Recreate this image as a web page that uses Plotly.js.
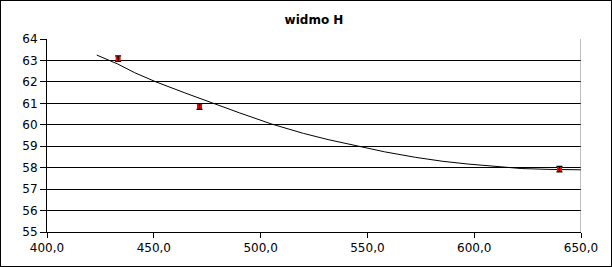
<!DOCTYPE html>
<html>
<head>
<meta charset="utf-8">
<script src="https://cdn.plot.ly/plotly-3.0.1.min.js"></script>
<style>
html,body{margin:0;padding:0;background:#fff;}
#wrap{position:relative;width:612px;height:267px;}
#chart{width:612px;height:267px;}
#frame{position:absolute;left:0;top:0;width:612px;height:267px;box-sizing:border-box;border:1px solid #000;pointer-events:none;}
</style>
</head>
<body>
<div id="wrap"><div id="chart"></div><div id="frame"></div></div>
<script>
// measured points
var measX = [433.3, 471.4, 639.9];
var measY = [63.08, 60.85, 57.93];
var measErr = [0.13, 0.13, 0.13];
// curve
var curveX = [423.3, 433, 441, 451, 465, 477.6, 490, 505, 520, 532, 543, 558, 572.6, 585, 597, 610, 622, 635, 650];
var curveY = [63.25, 62.84, 62.43, 62.0, 61.47, 61.0, 60.56, 60.04, 59.6, 59.3, 59.05, 58.74, 58.48, 58.3, 58.17, 58.05, 57.96, 57.92, 57.9];
var xTicks = [400, 450, 500, 550, 600, 650];
var yTicks = [55, 56, 57, 58, 59, 60, 61, 62, 63, 64];

var font = {family: 'DejaVu Sans, Verdana, sans-serif', size: 12, color: '#000'};

var traces = [
  {x: curveX, y: curveY, type: 'scatter', mode: 'lines', line: {color: '#000', width: 1}, hoverinfo: 'none'},
  {x: measX, y: measY, type: 'scatter', mode: 'markers',
   marker: {symbol: 'square', size: 5, color: '#ff0000', line: {width: 0}}},
  {x: measX, y: measY, type: 'scatter', mode: 'markers',
   marker: {symbol: 'square', size: 5, color: 'rgba(0,0,0,0)', line: {width: 0}},
   error_y: {type: 'data', array: measErr, visible: true, color: '#000', thickness: 1.2, width: 3}}
];

var layout = {
  width: 612, height: 267,
  margin: {l: 47, r: 31, t: 39, b: 35},
  paper_bgcolor: '#fff', plot_bgcolor: '#fff',
  separators: ', ',
  showlegend: false,
  font: font,
  title: {text: '<b>widmo H</b>', font: {family: 'DejaVu Sans, Verdana, sans-serif', size: 12, color: '#000'},
          x: 0.5, xanchor: 'center', y: 0.925, yanchor: 'middle', xref: 'paper'},
  xaxis: {range: [400, 650], tickvals: xTicks, tickformat: '.1f', ticks: 'outside', ticklen: 5,
          tickcolor: '#000', showline: true, linecolor: '#000', linewidth: 1, showgrid: false,
          zeroline: false, tickfont: font, fixedrange: true},
  yaxis: {range: [55, 64], tickvals: yTicks, ticks: 'outside', ticklen: 6, tickcolor: '#000',
          showline: true, linecolor: '#000', linewidth: 1, showgrid: true, gridcolor: '#000', gridwidth: 1,
          zeroline: false, tickfont: font, fixedrange: true},
  shapes: [
    {type: 'line', xref: 'x', yref: 'y', x0: 650, x1: 650, y0: 55, y1: 64, line: {color: '#808080', width: 1}}
  ]
};

Plotly.newPlot('chart', traces, layout, {displayModeBar: false, staticPlot: true});
</script>
</body>
</html>
